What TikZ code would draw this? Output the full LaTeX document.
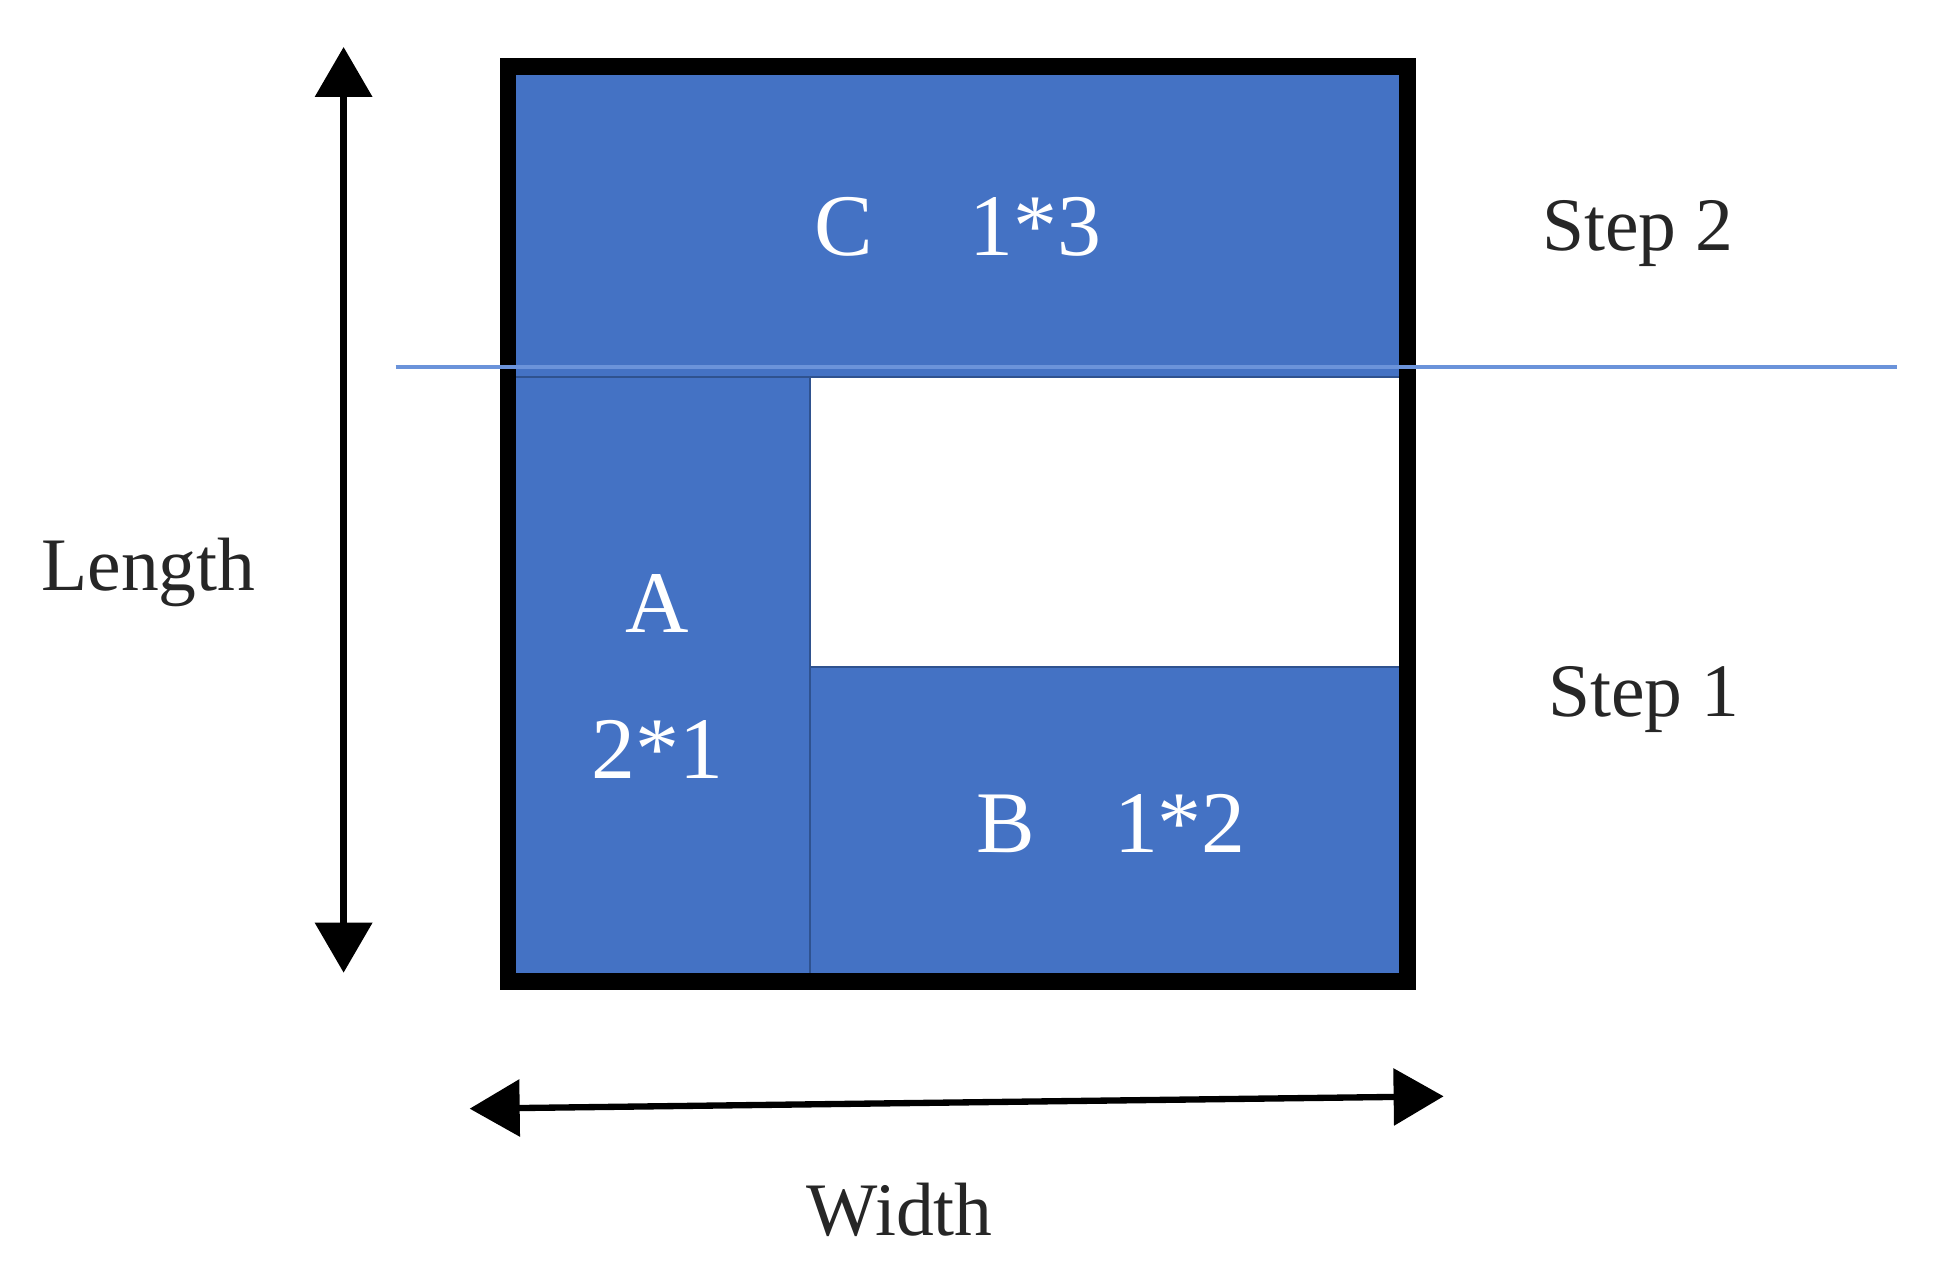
\documentclass[tikz,border=0pt]{standalone}
\usepackage{fontspec}
\setmainfont{Liberation Serif}
\usetikzlibrary{arrows.meta, positioning, calc}
\definecolor{cellblue}{HTML}{4472C4}
\definecolor{celledge}{HTML}{2F528F}
\definecolor{splitblue}{HTML}{6B93DA}

\begin{document}
\begin{tikzpicture}[x=0.01236cm, y=-0.01236cm,
    cell/.style={fill=cellblue, draw=celledge, line width=0.6pt},
    celltext/.style={anchor=base, text=white, font=\fontsize{25}{30}\selectfont},
    sidelabel/.style={anchor=base, text=black!85, font=\fontsize{21.5}{26}\selectfont},
    dimarrow/.style={{Triangle[length=0.5cm, width=0.56cm]}-{Triangle[length=0.5cm, width=0.56cm]}, line width=2pt}]
  \useasboundingbox (0,0) rectangle (1568,1039);

  % board corners
  \coordinate (nw) at (411,54);
  \coordinate (se) at (1139,794);

  % pieces
  \draw[cell] (nw) rectangle (1139,305);
  \draw[cell] (411,305) rectangle (655,794);
  \draw[cell] (655,540) rectangle (se);
  \draw[line width=4.8pt] (nw) rectangle (se);

  % split between the two steps
  \coordinate (cutL) at (320,297);
  \coordinate (cutR) at (1535,297);
  \draw[splitblue, line width=1.3pt] (cutL) -- (cutR);

  % piece labels
  \node[celltext] (pC) at (775,207) {C\hspace{1.1em}1*3};
  \node[celltext] (pA) at (532,512) {A};
  \node[celltext] (pAsize) at (532,630) {2*1};
  \node[celltext] (pB) at (899,690) {B\hspace{0.9em}1*2};

  % step labels
  \node[sidelabel] (step2) at (1325,203) {Step 2};
  \node[sidelabel] (step1) at (1330,580) {Step 1};

  % dimensions
  \coordinate (lenTop) at (278,38);
  \coordinate (lenBot) at (278,787);
  \draw[dimarrow] (lenTop) -- (lenBot);
  \node[sidelabel] (len) at (120,478) {Length};

  \coordinate (widL) at (380,897);
  \coordinate (widR) at (1168,887);
  \draw[dimarrow, line width=1.8pt] (widL) -- (widR);
  \node[sidelabel] (wid) at (728,1000) {Width};
\end{tikzpicture}
\end{document}
